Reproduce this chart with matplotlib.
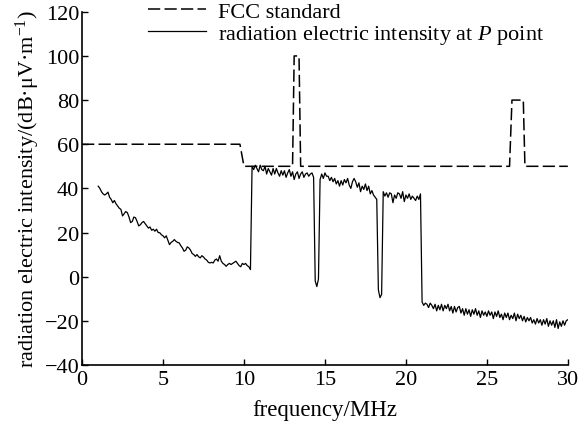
import numpy as np
import matplotlib
matplotlib.use("Agg")
import matplotlib.pyplot as plt

plt.rcParams['font.family'] = ['Liberation Serif', 'DejaVu Serif']
plt.rcParams['mathtext.fontset'] = 'custom'
plt.rcParams['mathtext.rm'] = 'Liberation Serif'
plt.rcParams['mathtext.it'] = 'Liberation Serif:italic'

# FCC standard limit (step line)
fcc_freq = [0, 9.75, 10.0, 13.0, 13.1, 13.4, 13.5, 26.4, 26.55, 27.25, 27.35, 30]
fcc_level = [60, 60, 50, 50, 100, 100, 50, 50, 80, 80, 50, 50]

# measured field at P point, sampled every 0.1 MHz from 1.0 to 30.0
seg_decay = [41, 40, 38.5, 37.5, 37, 37.5, 38.3, 36, 35, 33.5,
             34.5, 33, 32, 31, 30.5, 27.5, 28.5, 29.5, 29, 27,
             24.5, 25, 27, 26.7, 25, 23, 23.5, 24.5, 25, 24,
             23, 22, 22.5, 21, 21.5, 20.6, 21.5, 20, 19.9, 19,
             18.5, 17.6, 18.5, 16.5, 14.5, 15.5, 16, 16.8, 16, 15.5,
             15.3, 14, 13, 11.5, 12, 13.5, 13, 12, 10.5, 10,
             9.2, 10, 9, 8.5, 9.5, 8.9, 8, 7.5, 6.5, 6.2,
             6.5, 6.2, 7.5, 8, 7, 9.5, 7, 6, 5.5, 4.7,
             5.5, 6, 5.5, 6, 6.5, 7, 6, 5, 4.5, 6,
             5.5, 6, 5, 4.5, 3.2]
seg_high1 = [50, 48.5, 50.5, 49, 47.5, 50.5, 48.5, 48, 50, 46.5,
             49, 47.5, 46, 49, 46.5, 49, 47, 45.5, 48, 46,
             48, 45, 47, 48.5, 45.5, 47.5, 44, 46.5, 47.5, 44.5,
             46.5, 47.5, 45, 46.5, 47, 45.5, 46.5, 47, 45]
seg_dip1 = [-2, -4.5, -1]
seg_high2 = [44, 46.5, 44.5, 47, 45.5, 45.5, 43.5, 45, 43, 44.5,
             42, 43.5, 41, 43.5, 41.5, 44, 42.5, 44.5, 41.5, 40,
             43, 44.5, 43, 40.5, 42.5, 38.5, 41, 39.5, 42, 39,
             41, 37.5, 39, 37, 36, 35]
seg_dip2 = [-6, -9.5, -8]
seg_high3 = [38.5, 36.5, 38, 36, 38, 37.5, 33.5, 37, 35.5, 38,
             37.5, 35.5, 38.5, 34, 37, 35.5, 37.5, 35, 36.5, 35.5,
             34.5, 36.5, 35, 37.5]
seg_low = [-11.5, -13, -12, -12.5, -14, -12, -13, -14.5, -12.5, -15.5,
           -13, -15, -12.5, -15.5, -13, -14.5, -12.5, -15.5, -13.5, -16.5,
           -13.5, -16, -14, -13.5, -16.5, -14.5, -17.5, -14.5, -17, -15,
           -18, -15, -17, -14.5, -17.5, -15.5, -18.5, -15.5, -17.5, -16,
           -18, -15.5, -17.5, -16, -19, -16, -18, -15.5, -18.5, -17,
           -19.5, -16.5, -18.5, -16.5, -19.5, -17.5, -19, -16.5, -20, -17,
           -19, -17.5, -20, -18, -20.5, -18.5, -20, -18.5, -21, -19.5,
           -21.5, -19, -21, -19.5, -22, -19.5, -21.5, -19, -22.5, -20,
           -22, -20, -23, -19.5, -23.5, -20.5, -22.5, -20, -22, -20,
           -19.5]

freq = np.round(np.arange(1.0, 30.01, 0.1), 1)
field = np.array(seg_decay + seg_high1 + seg_dip1 + seg_high2 + seg_dip2 + seg_high3 + seg_low)
assert len(freq) == len(field), (len(freq), len(field))

fig = plt.figure(figsize=(5.86, 4.27), dpi=100)
ax = fig.add_axes([0.140, 0.143, 0.829, 0.827])

ax.plot(fcc_freq, fcc_level, color='black', lw=1.1, dashes=(8, 2.8), label='FCC standard')
ax.plot(freq, field, color='black', lw=0.9, label='radiation electric intensity at $P$ point')

ax.set_xlim(0, 30)
ax.set_ylim(-40, 120)
ax.set_xticks([0, 5, 10, 15, 20, 25, 30])
ax.set_yticks([-40, -20, 0, 20, 40, 60, 80, 100, 120])
ax.spines['top'].set_visible(False)
ax.spines['right'].set_visible(False)
ax.spines['left'].set_linewidth(1.2)
ax.spines['bottom'].set_linewidth(1.2)
ax.tick_params(direction='in', length=4.5, width=1.0, labelsize=16)
ax.tick_params(axis='y', pad=2)
ax.tick_params(axis='x', pad=4)

ax.set_xlabel('frequency/MHz', fontsize=16.5, labelpad=7)
ax.set_ylabel('radiation electric intensity/(dB·μV·m$^{-1}$)', fontsize=16, labelpad=2)

ax.legend(loc='upper left', bbox_to_anchor=(0.136, 1.03), frameon=False, fontsize=16,
          handlelength=2.6, handletextpad=0.55, labelspacing=0.05,
          borderpad=0, borderaxespad=0)

fig.savefig('out.png', dpi=100)
